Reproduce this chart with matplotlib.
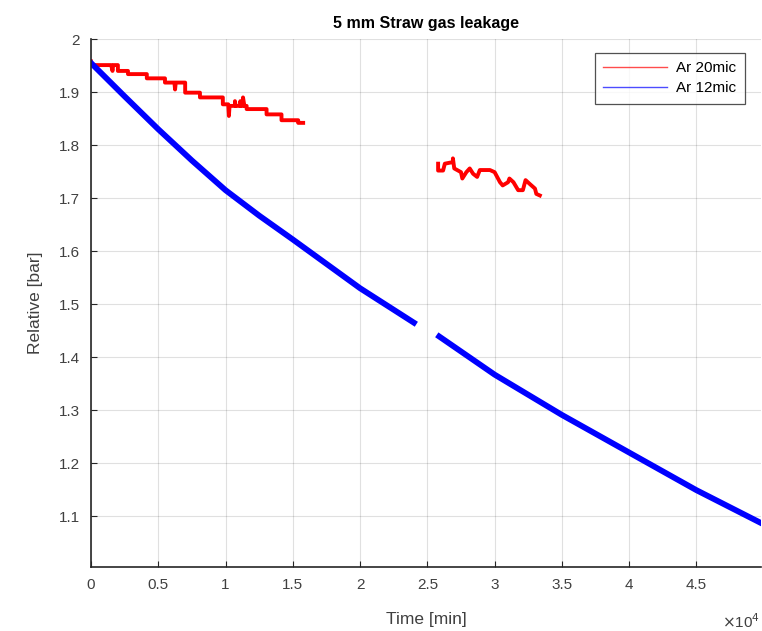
import numpy as np
import matplotlib
matplotlib.use('Agg')
import matplotlib.pyplot as plt
from matplotlib.ticker import FuncFormatter

plt.rcParams['font.family'] = ['Liberation Sans', 'DejaVu Sans']

# tiempo en unidades de 1e4 min, presion relativa en bar
# Ar 20mic, primer tramo (escalones)
t_rojo1 = [0.0, 0.005, 0.15, 0.16, 0.165, 0.20, 0.20, 0.275, 0.275, 0.415,
           0.415, 0.55, 0.55, 0.62, 0.625, 0.63, 0.70, 0.70, 0.81, 0.81,
           0.98, 0.98, 1.02, 1.025, 1.03, 1.07, 1.07, 1.075, 1.11, 1.11,
           1.115, 1.13, 1.13, 1.14, 1.157, 1.157, 1.305, 1.305, 1.416, 1.416,
           1.54, 1.54, 1.577]
p_rojo1 = [1.958, 1.951, 1.951, 1.940, 1.951, 1.951, 1.940, 1.940, 1.934, 1.934,
           1.926, 1.926, 1.918, 1.918, 1.905, 1.918, 1.918, 1.899, 1.899, 1.890,
           1.890, 1.877, 1.877, 1.855, 1.874, 1.874, 1.883, 1.874, 1.874, 1.883,
           1.874, 1.874, 1.890, 1.874, 1.874, 1.868, 1.868, 1.858, 1.858, 1.847,
           1.847, 1.842, 1.842]
# Ar 20mic, segundo tramo
t_rojo2 = [2.58, 2.58, 2.617, 2.63, 2.69, 2.69, 2.70, 2.75, 2.76, 2.79,
           2.815, 2.84, 2.87, 2.89, 2.92, 2.965, 3.00, 3.04, 3.06, 3.10,
           3.11, 3.14, 3.175, 3.21, 3.23, 3.26, 3.30, 3.31, 3.336]
p_rojo2 = [1.765, 1.752, 1.752, 1.765, 1.768, 1.775, 1.756, 1.749, 1.737, 1.749,
           1.756, 1.746, 1.740, 1.753, 1.753, 1.753, 1.749, 1.730, 1.724, 1.730,
           1.737, 1.730, 1.715, 1.715, 1.734, 1.727, 1.718, 1.708, 1.705]

# Ar 12mic
t_azul1 = [0.0, 0.25, 0.5, 0.75, 1.0, 1.25, 1.5, 2.0, 2.4]
p_azul1 = [1.955, 1.892, 1.830, 1.771, 1.715, 1.667, 1.622, 1.530, 1.465]
t_azul2 = [2.588, 3.0, 3.5, 4.0, 4.5, 4.98]
p_azul2 = [1.439, 1.367, 1.291, 1.220, 1.149, 1.087]

yticks = [1.1, 1.2, 1.3, 1.4, 1.5, 1.6, 1.7, 1.8, 1.9, 2.0]
xticks = [0, 0.5, 1, 1.5, 2, 2.5, 3, 3.5, 4, 4.5]

gris = '#262626'
fig = plt.figure(figsize=(7.62, 6.31), dpi=100)
ax = fig.add_axes([0.1194, 0.1014, 0.8793, 0.8366])

ax.plot(t_rojo1, p_rojo1, color='#ff0000', lw=2.8, label='Ar 20mic')
ax.plot(t_rojo2, p_rojo2, color='#ff0000', lw=2.8)
ax.plot(t_azul1, p_azul1, color='#0000ff', lw=4.2, label='Ar 12mic')
ax.plot(t_azul2, p_azul2, color='#0000ff', lw=4.2)

ax.set_xlim(0, 4.98)
ax.set_ylim(1.004, 2.0)
ax.set_xticks(xticks)
ax.set_yticks(yticks)
fmt = FuncFormatter(lambda v, pos: '%g' % v)
ax.xaxis.set_major_formatter(fmt)
ax.yaxis.set_major_formatter(fmt)
ax.tick_params(direction='in', length=4, width=0.8, colors=gris,
               labelcolor='#404040', labelsize=11, pad=8)
ax.grid(True, color='#000000', alpha=0.12, lw=0.8)
for s in ['top', 'right']:
    ax.spines[s].set_visible(False)
for s in ['left', 'bottom']:
    ax.spines[s].set_color(gris)
    ax.spines[s].set_linewidth(1.2)

ax.set_title('5 mm Straw gas leakage', fontsize=11.5, fontweight='bold',
             color='#000000', pad=8)
ax.set_xlabel('Time [min]', fontsize=12.5, color='#404040', labelpad=14)
ax.set_ylabel('Relative [bar]', fontsize=12.5, color='#404040', labelpad=11)
fig.text(0.997, 0.0, r'$\times$10$^4$', ha='right', va='bottom',
         fontsize=11, color='#404040')

leg = ax.legend(loc='upper right', bbox_to_anchor=(0.976, 0.974), fontsize=11,
                fancybox=False, edgecolor=gris, handlelength=4.2,
                handletextpad=0.6, borderpad=0.55, labelspacing=0.4,
                borderaxespad=0)
for h in leg.get_lines():
    h.set_linewidth(1)
    h.set_alpha(0.7)
leg.get_frame().set_linewidth(0.9)

fig.savefig('out.png', dpi=100)
